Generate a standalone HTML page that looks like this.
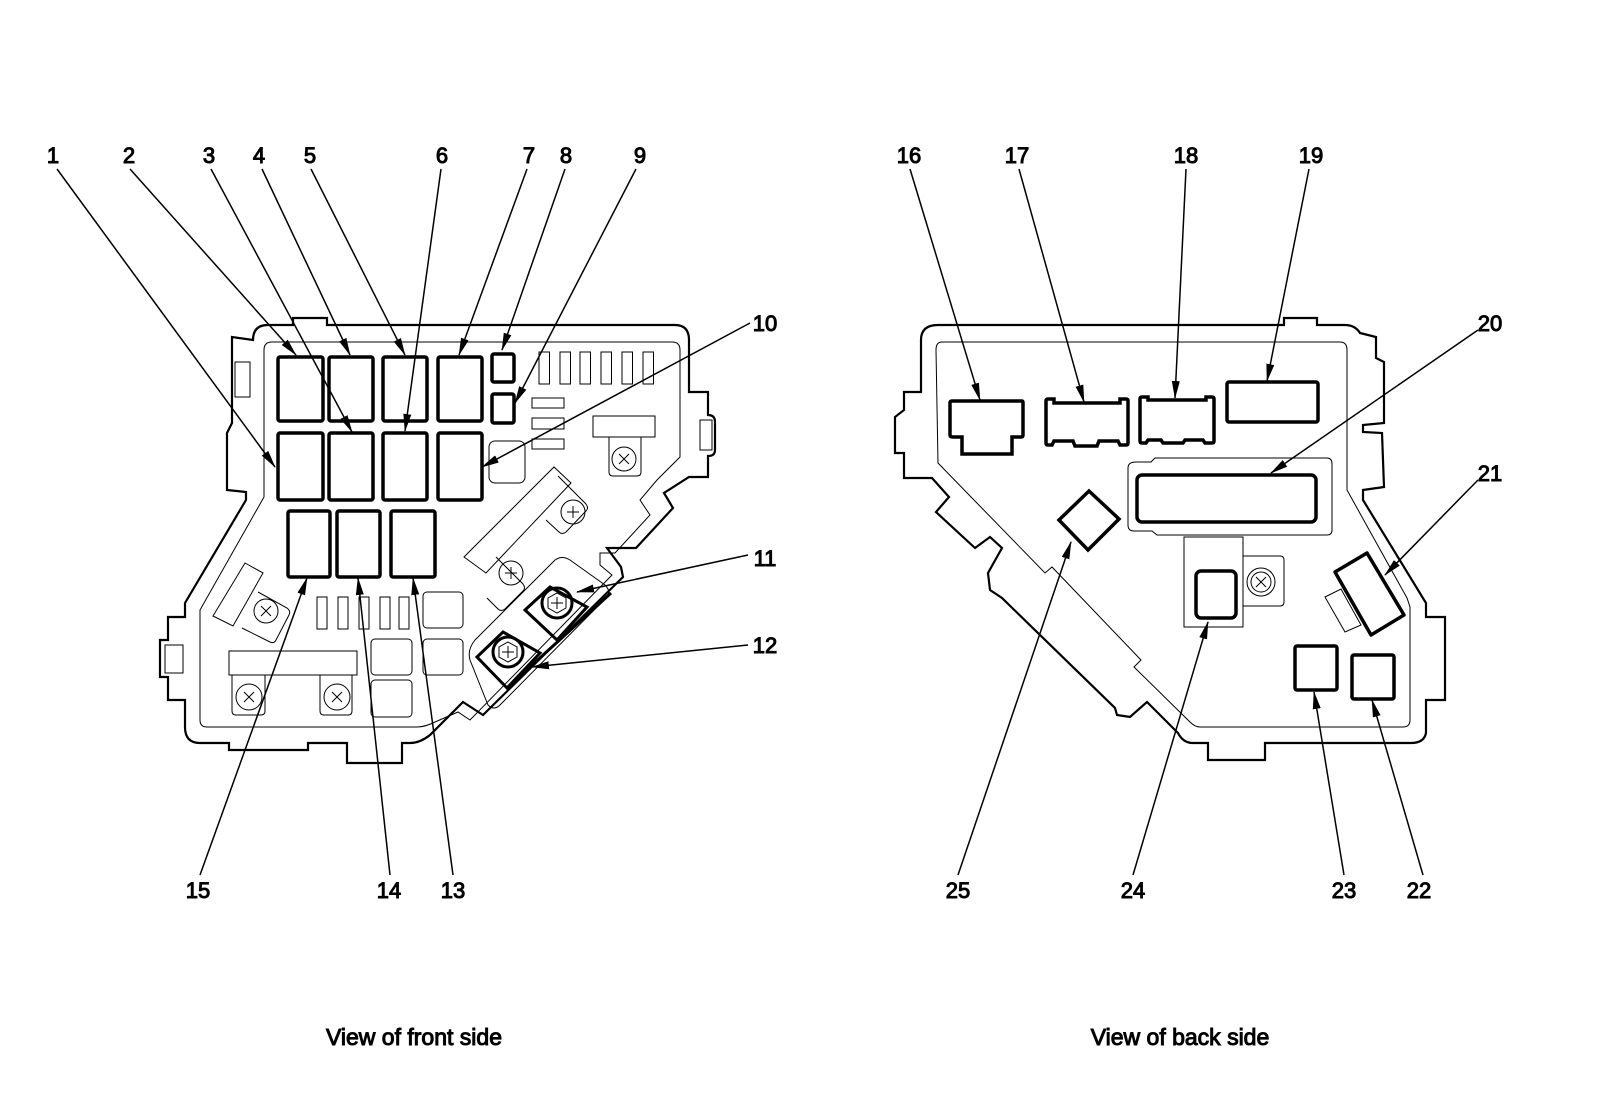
<!DOCTYPE html>
<html><head><meta charset="utf-8"><style>
html,body{margin:0;padding:0;background:#fff;}
svg{display:block;}
text{font-family:"Liberation Sans",Arial,sans-serif;fill:#000;}
</style></head><body>
<svg width="1600" height="1104" viewBox="0 0 1600 1104" xmlns="http://www.w3.org/2000/svg">
<defs>
<marker id="a" markerWidth="18" markerHeight="10" refX="17" refY="5" orient="auto" markerUnits="userSpaceOnUse">
<path d="M0,1 L18,5 L0,9 Z" fill="#000"/></marker>
</defs>
<g fill="none" stroke="#000">
<!-- FRONT outer -->
<path stroke-width="2.2" d="M253,340 Q253,325 268,325 L293,325 L293,318 L327,318 L327,325 L675,325 Q689,325 689,340 L689,392 L708,392 L708,415 Q715,415 715,422 L715,450 Q715,456 708,456 L708,477 L689,477 L664,493 L673,508 L636,548 L607,548 L621,567 L623,577 L483,715 L463,702 L430,735 Q420,743 410,743 L402,743 L402,763 L347,763 L347,743 L308,743 L308,750 L229,750 L229,743 L200,743 Q185,743 185,727 L185,700 L168,700 L168,677 L160,677 L160,640 L168,640 L168,617 L185,617 L185,603 L246,500 L246,492 L227,490 L227,433 L232,423 L232,337 Z"/>
<rect x="165" y="645" width="18" height="28" stroke-width="1"/>
<rect x="700" y="420" width="12" height="30" stroke-width="1"/>
<rect x="235" y="362" width="15" height="35" stroke-width="1"/>
<!-- FRONT inner -->
<path stroke-width="1" d="M272,342 L672,342 Q680,342 680,350 L680,457 L657,480 L640,500 L650,515 L615,553 L600,553 L600,565 L612,575 L470,720 L458,712 L435,722 Q425,727 417,727 L207,727 Q200,727 200,720 L200,610 L264,497 L264,350 Q264,342 272,342 Z"/>
<!-- relays -->
<g stroke-width="3.5">
<rect x="278" y="357" width="45" height="64" rx="2"/>
<rect x="329" y="357" width="44" height="64" rx="2"/>
<rect x="383" y="357" width="44" height="64" rx="2"/>
<rect x="438" y="357" width="44" height="64" rx="2"/>
<rect x="278" y="433" width="45" height="67" rx="2"/>
<rect x="329" y="433" width="44" height="67" rx="2"/>
<rect x="383" y="433" width="44" height="67" rx="2"/>
<rect x="438" y="433" width="44" height="67" rx="2"/>
<rect x="288" y="511" width="42" height="66" rx="2"/>
<rect x="337" y="511" width="43" height="66" rx="2"/>
<rect x="391" y="511" width="44" height="66" rx="2"/>
<rect x="492" y="354" width="22" height="28" rx="2"/>
<rect x="492" y="394" width="22" height="29" rx="2"/>
</g>
<g stroke-width="1">
<rect x="539" y="352" width="10.5" height="32"/><rect x="560" y="352" width="10.5" height="32"/><rect x="580" y="352" width="10.5" height="32"/><rect x="601" y="352" width="10.5" height="32"/><rect x="622" y="352" width="10.5" height="32"/><rect x="643" y="352" width="10.5" height="32"/>
<rect x="532" y="398" width="32" height="10"/><rect x="532" y="418" width="32" height="11"/><rect x="532" y="439" width="32" height="10"/>
<rect x="593" y="416" width="62" height="21"/>
<path d="M609,437 L609,472 Q609,476 613,476 L637,476 Q641,476 641,472 L641,437"/>
<circle cx="624" cy="459" r="12"/><path d="M619,454 L629,464 M629,454 L619,464"/>
<rect x="489" y="441" width="36" height="42" rx="6"/>
<!-- lower -->
<rect x="317" y="597" width="10" height="32"/><rect x="338" y="597" width="10" height="32"/><rect x="359" y="597" width="10" height="32"/><rect x="380" y="597" width="10" height="32"/><rect x="399" y="597" width="10" height="32"/>
<rect x="423" y="592" width="40" height="36" rx="4"/>
<rect x="371" y="639" width="41" height="36" rx="4"/>
<rect x="423" y="639" width="40" height="36" rx="4"/>
<rect x="371" y="680" width="41" height="37" rx="4"/>
<rect x="229" y="651" width="128" height="24"/>
<path d="M232,675 L232,711 Q232,715 236,715 L261,715 Q265,715 265,711 L265,675"/>
<circle cx="249" cy="697" r="13"/><path d="M244,692 L254,702 M254,692 L244,702"/>
<path d="M320,675 L320,711 Q320,715 324,715 L348,715 Q352,715 352,711 L352,675"/>
<circle cx="337" cy="697" r="13"/><path d="M332,692 L342,702 M342,692 L332,702"/>
<path d="M245,563 L263,573 L233,626 L213,616 Z"/>
<path d="M258,592 L287,608 Q291,611 289,615 L276,640 Q274,644 270,642 L242,628"/>
<circle cx="266" cy="611" r="12"/><path d="M261,606 L271,616 M271,606 L261,616"/>
<!-- diagonal bus -->
<path d="M464,557 L554,467 L571,483 L486,573 Z"/>
<path d="M558,476 L586,504 Q589,508 586,511 L566,532 Q562,535 559,532 L546,520"/>
<circle cx="573" cy="512" r="12"/><path d="M567,512 L579,512 M573,506 L573,518"/>
<path d="M496,557 L523,584 Q526,588 523,591 L505,609 Q501,612 498,609 L487,598"/>
<circle cx="511" cy="573" r="12"/><path d="M505,573 L517,573 M511,567 L511,579"/>
<path d="M475,640 L555,560 Q562,555 570,560 L605,585 Q612,592 606,598 L500,705 Q494,711 488,705 L470,660 Q467,650 475,640 Z"/>
</g>
<g fill="none" stroke="#000" stroke-width="3">
<path d="M525,610 L550,587 L587,607 L557,640 Z"/>
<circle cx="557" cy="603" r="15"/>
<path d="M477,657 L503,632 L540,653 L507,688 Z"/>
<circle cx="508" cy="652" r="15"/>
<path d="M507,688 L611,593"/>
</g>
<g stroke="#000" stroke-width="1" fill="none">
<polygon points="557,593 566,598 566,608 557,613 548,608 548,598"/>
<path d="M551,603 L563,603 M557,597 L557,609"/>
<polygon points="508,642 517,647 517,657 508,662 499,657 499,647"/>
<path d="M502,652 L514,652 M508,646 L508,658"/>
</g>

<!-- BACK outer -->
<g fill="none" stroke="#000">
<path stroke-width="2.2" d="M921,340 Q921,325 938,325 L1284,325 L1284,318 L1317,318 L1317,325 L1345,325 Q1355,325 1360,333 L1376,337 L1376,358 L1384,362 L1384,423 L1363,425 L1363,432 L1382,433 L1384,487 L1363,490 L1363,500 L1426,603 L1426,617 L1445,617 L1445,700 L1426,700 L1426,733 Q1424,743 1411,743 L1265,743 L1265,760 L1208,760 L1208,743 L1193,743 Q1183,743 1178,733 L1147,702 L1130,717 L1117,715 L1115,708 L1002,598 L990,590 L988,573 L1002,548 L990,537 L975,548 L936,512 L949,497 L932,478 L904,478 L904,453 L895,453 L895,417 L904,410 L904,392 L921,392 Z"/>
<path stroke-width="1" d="M942,342 L1340,342 Q1347,342 1347,350 L1347,490 L1407,598 L1410,607 L1410,720 Q1410,727 1403,727 L1200,727 Q1195,727 1190,722 L1134,667 L1141,660 L1052,567 L1045,573 L938,463 L936,350 Q936,342 942,342 Z"/>
</g>
<g fill="none" stroke="#000" stroke-width="3.5">
<path d="M952,401 L1022,401 Q1023,401 1023,403 L1023,435 Q1023,437 1021,437 L1012,437 L1012,454 L962,454 L962,437 L953,437 Q950,437 950,435 L950,403 Q950,401 952,401 Z"/>
<path d="M1048,399 L1054,399 L1054,403 L1120,403 L1120,399 L1126,399 Q1128,399 1128,401 L1128,443 Q1128,445 1126,445 L1120,445 L1118,441 L1099,441 L1097,446 L1075,446 L1073,441 L1054,441 L1052,445 L1048,445 Q1046,445 1046,443 L1046,401 Q1046,399 1048,399 Z"/>
<path d="M1142,397 L1148,397 L1148,400 L1206,400 L1206,397 L1212,397 Q1214,397 1214,399 L1214,441 Q1214,443 1212,443 L1205,443 L1203,440 L1185,440 L1183,443 L1163,443 L1161,440 L1148,440 L1146,443 L1142,443 Q1140,443 1140,441 L1140,399 Q1140,397 1142,397 Z"/>
<rect x="1227" y="382" width="91" height="40" rx="2"/>
<rect x="1137" y="475" width="179" height="47" rx="5"/>
<path d="M1089,491 L1119,519 L1088,550 L1059,520 Z"/>
<rect x="1196" y="571" width="40" height="47" rx="5"/>
<path d="M1335,572 L1367,553 L1404,615 L1371,635 Z" stroke-linejoin="round"/>
<rect x="1295" y="646" width="42" height="44" rx="2"/>
<rect x="1352" y="655" width="42" height="44" rx="2"/>
</g>
<g fill="none" stroke="#000" stroke-width="1">
<path d="M1136,462 L1151,462 L1155,458 L1327,458 Q1332,458 1332,464 L1332,530 Q1332,535 1327,535 L1157,535 L1152,531 L1134,531 Q1128,531 1128,525 L1128,468 Q1128,462 1136,462 Z"/>
<rect x="1184" y="537" width="59" height="90"/>
<path d="M1243,556 L1280,556 Q1284,556 1284,560 L1284,602 Q1284,606 1280,606 L1243,606"/>
<circle cx="1261" cy="582" r="14"/><circle cx="1261" cy="582" r="10"/><path d="M1256,577 L1266,587 M1266,577 L1256,587"/>
<path d="M1325,597 L1341,589 L1361,625 L1345,632 Z"/>
</g>
<!-- leaders -->
<g stroke="#000" stroke-width="1.5" fill="none" marker-end="url(#a)">
<line x1="57" y1="169" x2="275" y2="467"/>
<line x1="130" y1="169" x2="296" y2="355"/>
<line x1="211" y1="169" x2="352" y2="432"/>
<line x1="262" y1="169" x2="350" y2="355"/>
<line x1="311" y1="169" x2="405" y2="355"/>
<line x1="441" y1="169" x2="405" y2="431"/>
<line x1="527" y1="169" x2="459" y2="355"/>
<line x1="565" y1="169" x2="502" y2="350"/>
<line x1="636" y1="169" x2="515" y2="403"/>
<line x1="750" y1="323" x2="482" y2="467"/>
<line x1="748" y1="555" x2="577" y2="592"/>
<line x1="748" y1="645" x2="532" y2="667"/>
<line x1="200" y1="875" x2="307" y2="578"/>
<line x1="390" y1="875" x2="358" y2="578"/>
<line x1="453" y1="875" x2="413" y2="578"/>
<line x1="910" y1="169" x2="980" y2="400"/>
<line x1="1019" y1="169" x2="1084" y2="402"/>
<line x1="1186" y1="169" x2="1175" y2="398"/>
<line x1="1309" y1="169" x2="1267" y2="381"/>
<line x1="1478" y1="330" x2="1271" y2="473"/>
<line x1="1478" y1="480" x2="1385" y2="575"/>
<line x1="958" y1="875" x2="1071" y2="542"/>
<line x1="1133" y1="875" x2="1208" y2="622"/>
<line x1="1344" y1="875" x2="1314" y2="692"/>
<line x1="1423" y1="875" x2="1372" y2="700"/>
</g>
<!-- labels -->
<g font-size="22" text-anchor="middle">
<text x="53" y="163">1</text><text x="129" y="163">2</text><text x="209" y="163">3</text><text x="259" y="163">4</text><text x="310" y="163">5</text><text x="442" y="163">6</text><text x="529" y="163">7</text><text x="566" y="163">8</text><text x="640" y="163">9</text>
<text x="765" y="331">10</text><text x="765" y="566">11</text><text x="765" y="653">12</text>
<text x="198" y="898">15</text><text x="389" y="898">14</text><text x="453" y="898">13</text>
<text x="909" y="163">16</text><text x="1017" y="163">17</text><text x="1186" y="163">18</text><text x="1311" y="163">19</text>
<text x="1490" y="331">20</text><text x="1490" y="481">21</text>
<text x="958" y="898">25</text><text x="1133" y="898">24</text><text x="1344" y="898">23</text><text x="1419" y="898">22</text>
</g>
<g font-size="23" text-anchor="middle">
<text x="414" y="1045">View of front side</text>
<text x="1180" y="1045">View of back side</text>
</g>
</svg>
</body></html>
